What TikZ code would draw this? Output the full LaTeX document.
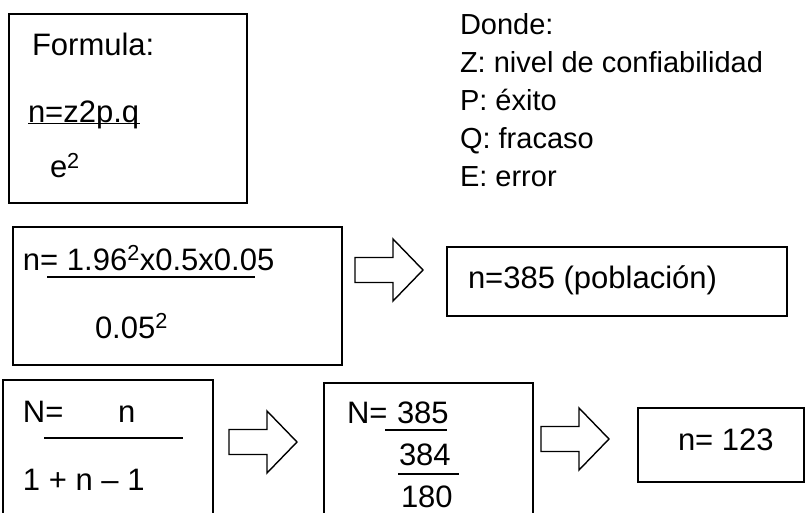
\documentclass[tikz,border=0pt]{standalone}
\usepackage{fontspec}
\setmainfont{Liberation Sans}
\begin{document}
\begin{tikzpicture}[x=1pt,y=-1pt,
  box/.style={draw, line width=1.8pt, inner sep=0pt, outer sep=0pt, anchor=north west},
  txt/.style={anchor=base west, inner sep=0pt, outer sep=0pt, font=\fontsize{31}{37}\selectfont},
  dtxt/.style={anchor=base west, inner sep=0pt, outer sep=0pt, font=\fontsize{29}{35}\selectfont},
  rule/.style={line width=1.8pt},
  arrowline/.style={draw, line width=1.4pt, line join=miter, fill=white},
  blockarrow/.pic={
    \path[arrowline] (0,-12.5) -- (38,-12.5) -- (38,-31) -- (68,0) -- (38,31)
      -- (38,12.5) -- (0,12.5) -- cycle;
  }
]
\useasboundingbox (0,0) rectangle (806,513);
\clip (0,0) rectangle (806,513);
\fill[white] (0,0) rectangle (806,513);

% boxes
\node[box, minimum width=238pt, minimum height=189pt] (b1) at (9,14) {};
\node[box, minimum width=329pt, minimum height=138pt] (b2) at (13,227) {};
\node[box, minimum width=340pt, minimum height=69pt] (b3) at (447,247) {};
\node[box, minimum width=210pt, minimum height=160pt] (b4) at (3,380) {};
\node[box, minimum width=209pt, minimum height=160pt] (b5) at (324,383) {};
\node[box, minimum width=166pt, minimum height=74pt] (b6) at (638,408) {};

% block arrows
\pic (a1) at (355,270) {blockarrow};
\pic (a2) at (229,442) {blockarrow};
\pic (a3) at (541,439) {blockarrow};

% formula box
\node[txt] (f1) at (32,56) {Formula:};
\node[txt] (f2) at (28,123) {n=z2p.q};
\draw[rule] (28,123.5) -- (140,123.5);
\node[txt] (f3) at (50,178) {e\textsuperscript{2}};

% legend
\node[dtxt] (d1) at (460,35) {Donde:};
\node[dtxt] (d2) at (460,73) {Z: nivel de confiabilidad};
\node[dtxt] (d3) at (460,111) {P: éxito};
\node[dtxt] (d4) at (460,149) {Q: fracaso};
\node[dtxt] (d5) at (460,187) {E: error};

% second box
\node[txt] (g1) at (23,270) {n= 1.96\textsuperscript{2}x0.5x0.05};
\draw[rule] (47,277) -- (255,277);
\node[txt] (g2) at (95,338) {0.05\textsuperscript{2}};

% result box
\node[txt] (r1) at (468,288) {n=385 (población)};

% fourth box
\node[txt] (h1) at (23,422) {N=};
\node[txt] (h2) at (118,422) {n};
\draw[rule] (44,438) -- (183,438);
\node[txt] (h3) at (23,490) {1 + n – 1};

% fifth box
\node[txt] (k1) at (347,423) {N=};
\node[txt] (k2) at (397,423) {385};
\draw[rule] (385,430) -- (447,430);
\node[txt] (k3) at (399,465) {384};
\draw[rule] (398,474) -- (459,474);
\node[txt] (k4) at (401,507) {180};

% final box
\node[txt] (m1) at (678,450) {n= 123};
\end{tikzpicture}
\end{document}
